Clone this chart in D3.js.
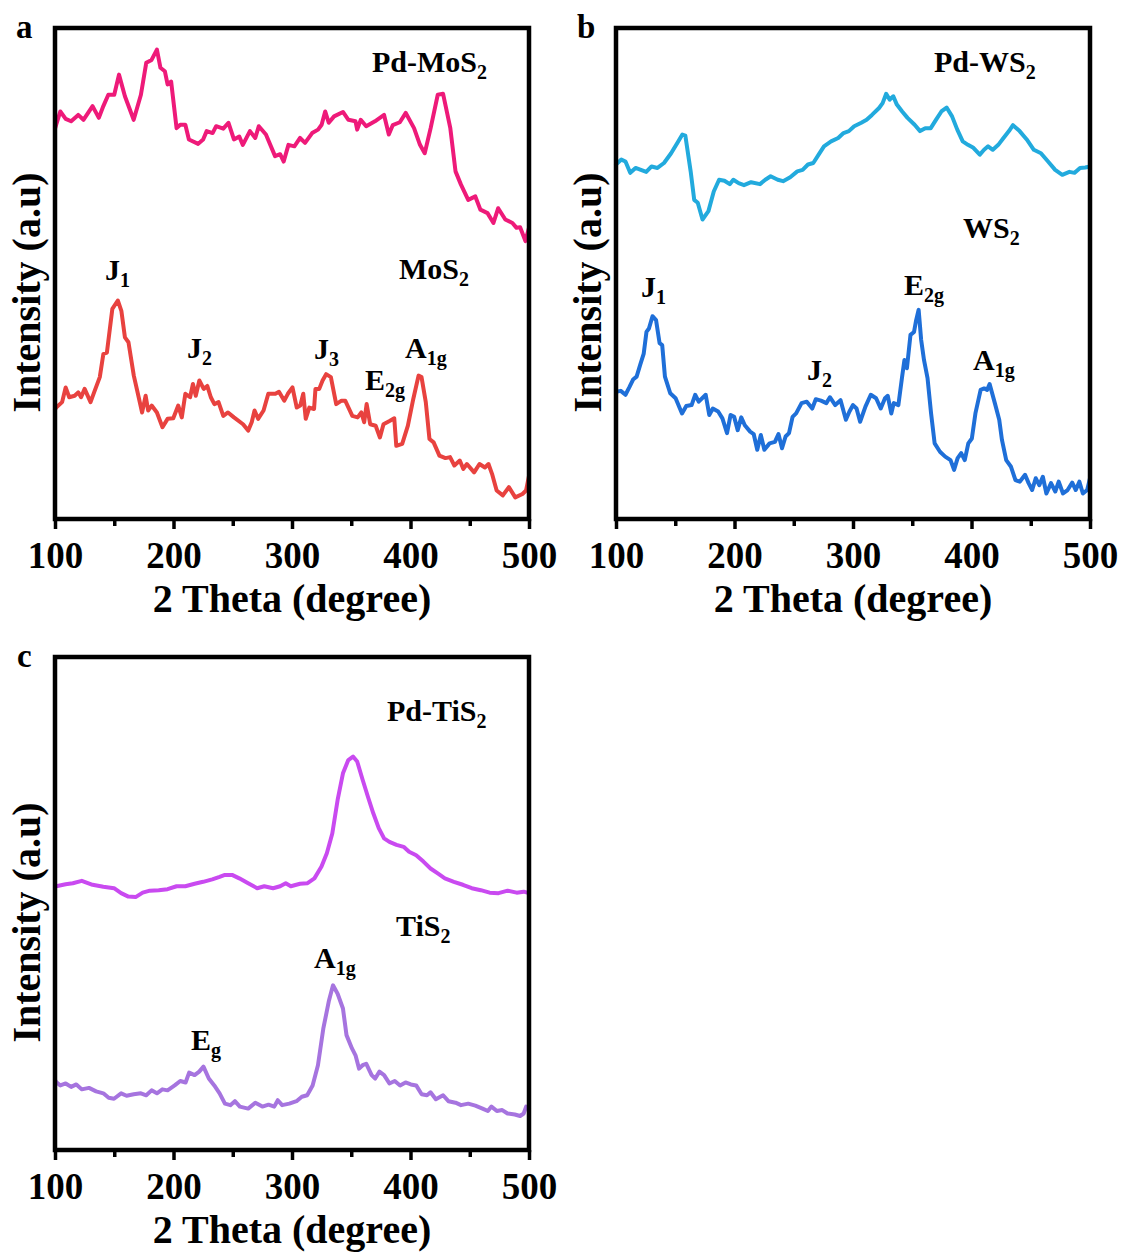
<!DOCTYPE html>
<html>
<head>
<meta charset="utf-8">
<script src="https://cdn.jsdelivr.net/npm/d3@7"></script>
<style>
  html, body { margin: 0; padding: 0; background: #fff; }
  svg text { font-family: "Liberation Serif", "Times New Roman", serif; font-weight: bold; fill: #000; }
</style>
</head>
<body>
<svg id="fig" width="1123" height="1252"></svg>
<script>
// Raman spectra: [2θ (degree), intensity (a.u.)]
const pdMoS2 = [[100,79.5],[101,80.3],[104.5,83.0],[109,81.5],[113.6,81.0],[119.6,82.3],[124,81.3],[131.7,84.1],[137,81.7],[140.8,84.1],[145,86.4],[150,86.4],[154,90.5],[159,86.1],[166.4,81.3],[172.5,86.4],[177,92.9],[181.5,93.5],[186,95.6],[189,91.9],[192.7,91.2],[195,88.5],[198,89.1],[202.6,79.6],[205.7,80.3],[210,80.3],[213,77.3],[220.8,76.4],[225,77.3],[228,79.0],[233,78.6],[236,80.0],[242,79.5],[246.4,80.7],[251,77.3],[255.5,77.9],[258.5,76.2],[264.5,79.0],[269,77.6],[272,80.0],[278,78.3],[285.7,73.9],[290,74.3],[293,72.8],[297,76.2],[302,75.9],[306.8,77.6],[311,76.6],[317,78.6],[322,79.3],[325,80.3],[328,83.0],[331,80.7],[335.5,82.0],[343,82.9],[347.6,81.3],[353.6,81.0],[355,79.3],[358,81.3],[362.6,80.0],[370,81.0],[377.7,82.3],[381.7,78.3],[385,80.2],[391,80.8],[396,82.7],[403,79.6],[408,76.2],[412,74.5],[417,79.6],[423,86.4],[427.5,86.6],[433.6,79.6],[438,70.8],[442.6,68.1],[448.7,65.0],[454.7,65.7],[459,63.0],[465,62.3],[470,60.3],[474,63.3],[480,61.0],[486,60.3],[489.5,59.3],[492.5,59.4],[497,56.6],[500,59.3]];

const mos2 = [[100,22.3],[101,22.7],[106,23.8],[109,26.8],[112,24.8],[116.6,25.1],[119.6,25.8],[122,24.8],[125,26.5],[130,23.8],[133,25.8],[137.8,28.9],[140.8,33.6],[143.8,33.9],[148.4,42.8],[153,44.5],[156,42.4],[159,37.0],[162,36.0],[166.5,29.2],[171,24.4],[173.5,21.7],[176.5,25.1],[178.6,22.1],[181.6,23.1],[186,21.7],[190.7,18.7],[195,20.4],[199.8,20.5],[204,23.1],[207,20.7],[210,25.5],[214,24.8],[216.4,27.5],[218.8,25.1],[221.8,28.2],[225.5,26.5],[228.5,27.1],[231.5,24.8],[234.5,23.4],[238,23.8],[242,21.0],[246,21.7],[251,20.7],[258.7,19.3],[263,18.0],[266,19.7],[268.4,22.1],[271.4,20.4],[276,22.1],[280,25.5],[286,25.5],[289,25.9],[293.5,24.1],[296.5,25.5],[300.4,26.8],[304,22.7],[307,23.1],[309.5,25.5],[311.6,20.4],[314.6,22.7],[318.6,22.4],[319.8,26.5],[323,26.5],[325.8,28.2],[328.8,29.5],[332.8,28.9],[337.3,23.4],[341.8,24.1],[344.9,24.1],[350.9,21.0],[355.4,20.7],[358.5,21.7],[360.9,19.7],[363,23.4],[366,19.3],[370.6,19.0],[374.2,16.6],[377.2,19.3],[382.7,20.0],[386.3,20.5],[388,14.9],[393,15.3],[397.8,19.0],[402.3,24.4],[406.8,29.2],[409.3,28.9],[412.9,23.8],[416,16.3],[419.5,15.6],[424.4,12.9],[429.5,12.4],[433.4,12.6],[437,10.9],[441.6,11.9],[444.6,10.2],[447.6,11.2],[453.7,9.5],[458.2,11.2],[462.8,10.5],[465.8,11.2],[468.8,9.2],[472.7,5.8],[477.9,4.8],[483,6.5],[488.4,4.4],[494.5,5.1],[497.5,5.8],[500,8.8]];

const pdWS2 = [[100,72.2],[104.5,73.2],[108,72.8],[112,70.5],[116.5,71.5],[121,71.1],[125.5,70.7],[130,71.8],[135,71.5],[140.5,72.5],[146.5,74.5],[152.5,76.9],[156,78.3],[158.5,78.1],[163,70.8],[166,65.0],[169,64.4],[173,61.0],[178,62.7],[182.5,66.7],[187,69.1],[191.5,68.9],[196,68.2],[199,69.1],[203.5,68.4],[208,68.0],[214,68.6],[221.5,68.2],[226,69.1],[230.5,69.8],[236.5,69.1],[241,68.8],[247,69.6],[253,70.8],[257.5,71.1],[262,72.2],[266.5,72.5],[271,74.2],[275.5,75.9],[281.5,76.9],[287.5,77.6],[292,78.6],[296.5,79.0],[301,80.0],[307,80.7],[311.5,81.3],[316,82.3],[322,83.7],[325,84.7],[328,86.6],[331,85.4],[334,86.1],[337,84.4],[341.5,83.0],[346,81.7],[352,80.3],[356.6,79.0],[361,79.6],[365.6,79.6],[370,81.3],[374.6,83.0],[379,83.8],[383.6,82.0],[388,79.3],[392.6,76.9],[397,76.2],[401.6,75.6],[407,74.2],[410.6,75.2],[414,75.9],[418,75.2],[422.6,76.2],[427,77.6],[431.6,79.0],[435,80.2],[440.6,79.0],[446.6,77.3],[452.6,75.2],[458.6,74.5],[464.6,72.8],[470.6,71.1],[476.6,70.1],[482.6,70.7],[487,70.5],[491.6,71.5],[496,71.6],[500,71.8]];

const ws2 = [[100,25.9],[104,26.1],[108,25.3],[111.4,26.9],[114.4,28.4],[117.4,29.0],[120.4,31.4],[123.4,33.7],[125.7,38.1],[127.8,38.8],[130.8,41.3],[133.8,40.5],[136.8,35.8],[139,35.4],[141.3,29.0],[145.8,25.6],[150.3,24.6],[155.7,21.5],[159.3,23.0],[163.8,23.2],[166.8,25.3],[169.8,23.9],[175.7,25.3],[178.7,21.2],[181.7,22.5],[186.2,21.9],[189.8,20.5],[193.7,17.5],[196.7,21.2],[199.7,20.8],[202.7,18.1],[205.7,20.7],[208.7,19.1],[213.2,17.8],[216.2,17.3],[219.2,14.1],[222.2,17.1],[225.2,14.1],[229.6,15.4],[234.1,15.7],[237.1,17.3],[240.1,14.4],[243.1,16.8],[246,17.5],[249,20.8],[252,21.5],[256.6,23.6],[261,23.9],[265.6,22.5],[268.6,24.4],[273,24.1],[277.5,23.6],[280.5,24.8],[285,23.2],[289.5,24.2],[294,20.2],[297,21.9],[300,23.2],[303,22.5],[306,19.8],[310.5,22.9],[315,25.3],[319.5,24.6],[323.4,22.5],[327,24.6],[329.3,25.1],[332.3,21.5],[334.4,23.6],[338.3,23.2],[341.3,28.7],[343.4,32.4],[345.5,30.7],[348.5,37.5],[351.5,38.1],[353.3,40.5],[355.4,42.6],[357.5,36.5],[359.9,32.4],[362.9,28.7],[365.9,21.5],[368.9,15.4],[373.4,13.7],[377.8,12.7],[382.3,12.0],[385.3,10.0],[388.3,12.4],[391.3,13.4],[394.3,12.0],[397.3,15.4],[400.3,16.4],[403.3,21.5],[407.7,26.3],[410.7,26.6],[413.2,26.3],[415.3,27.5],[419.7,23.6],[423.4,20.2],[425.7,16.1],[429.3,12.0],[433.2,10.7],[437.1,7.9],[440.7,7.6],[445.2,9.0],[448.2,7.3],[451.2,5.9],[454.2,8.3],[457.2,6.9],[460.2,8.6],[463.2,5.2],[467.1,7.3],[470.7,5.6],[473.6,7.6],[477.2,5.2],[481.1,5.9],[485,7.4],[488,5.9],[491,7.6],[494,5.2],[497.6,5.9],[500,8.3]];

const pdTiS2 = [[100,53.4],[101,53.5],[109,53.9],[115,54.1],[122.6,54.6],[131.7,53.8],[140.8,53.4],[149.8,53.1],[155.8,52.1],[161.9,51.4],[168,51.3],[174,52.2],[180,52.6],[187.5,52.7],[195,52.9],[202.6,53.5],[210,53.5],[217.8,54.0],[225,54.4],[232.7,54.9],[238.9,55.4],[243.4,55.8],[249.4,55.8],[255.5,55.1],[263,54.1],[270.6,53.1],[276.6,53.5],[284,53.1],[290,53.5],[294.7,54.1],[299,53.5],[306.8,54.0],[312.8,54.1],[318.9,55.1],[324.9,57.5],[329.4,60.2],[334,64.2],[338.5,71.0],[343,76.4],[347.5,79.1],[351.5,79.8],[355,78.8],[359.6,75.1],[364,71.7],[368.6,68.3],[373.2,65.3],[377.7,63.2],[382.2,62.5],[388.2,61.9],[394.2,61.5],[398.8,60.5],[404.8,59.8],[410.9,58.5],[416.9,57.1],[423,56.1],[429,55.1],[436.6,54.4],[444.2,53.8],[451.7,53.1],[459.3,52.7],[466.8,52.2],[474.3,52.1],[482,52.6],[489.6,52.2],[495.5,52.4],[500,52.1]];

const tiS2 = [[100,14.2],[101,13.8],[104.5,13.1],[109,13.5],[113.6,12.8],[118,13.3],[122.6,12.3],[128.7,12.6],[134.7,11.9],[140.8,11.5],[145.3,10.6],[149.8,10.4],[155.8,11.5],[160.4,11.0],[166.4,11.3],[172.5,11.5],[177,11.1],[181.5,12.1],[186,11.5],[190.6,12.3],[195,12.1],[201,13.1],[205.7,14.0],[210.2,13.7],[213.2,15.7],[217.8,15.2],[221.7,15.9],[225.3,16.9],[229.8,14.5],[234.4,13.1],[238.9,11.5],[243.4,9.4],[248,9.1],[251.8,9.9],[256,8.8],[263,8.4],[269,9.6],[275,8.8],[280.2,9.2],[285,8.8],[288,10.1],[291.7,9.1],[297.7,9.4],[303.8,9.9],[308.3,10.8],[312.8,11.1],[317.4,13.1],[321.9,17.2],[326.4,24.6],[331,30.1],[334.6,33.4],[338.5,31.7],[343,28.7],[346,23.3],[350.6,20.6],[353.6,19.2],[356.6,16.5],[359.6,17.2],[362.6,17.5],[367.2,15.2],[370.2,14.5],[373.8,15.9],[377.7,15.2],[382.2,13.5],[386.7,14.0],[391.2,13.1],[395.8,13.7],[400.3,13.3],[404.8,13.1],[409.4,11.3],[413.9,11.1],[416.9,11.7],[421.4,10.3],[427.5,11.1],[432,9.9],[438,9.6],[442.6,9.1],[448.7,9.4],[454.7,9.0],[460.8,8.4],[465.3,7.9],[468.3,8.8],[472.9,7.9],[477.4,8.1],[481.9,7.4],[488,7.2],[492.5,6.9],[495.5,7.4],[497.6,8.8],[500,8.4]];

// Axis ticks
const majorTicks = [100, 200, 300, 400, 500];
const minorTicks = [150, 250, 350, 450];
const xTitle = "2 Theta (degree)";
const yTitle = "Intensity (a.u)";

// Sample and peak annotations: [main text, subscript, x, y baseline]
const labelsA = [["Pd-MoS", "2", 372, 72], ["MoS", "2", 399, 279], ["J", "1", 105, 280], ["J", "2", 187, 358], ["J", "3", 314, 359], ["E", "2g", 365, 390], ["A", "1g", 405, 358]];
const labelsB = [["Pd-WS", "2", 934, 72], ["WS", "2", 963, 238], ["J", "1", 641, 297], ["E", "2g", 904, 295], ["J", "2", 807, 380], ["A", "1g", 973, 370]];
const labelsC = [["Pd-TiS", "2", 387, 721], ["TiS", "2", 396, 936], ["A", "1g", 314, 968], ["E", "g", 191, 1050]];

const svg = d3.select("#fig");

function panel(cfg) {
  const { left, right, top, bottom, series, labels, letter, letterX, titleX } = cfg;
  const x = d3.scaleLinear().domain([100, 500]).range([left, right]);
  const y = d3.scaleLinear().domain([0, 100]).range([bottom, top]);
  const g = svg.append("g");

  const line = d3.line().x(d => x(d[0])).y(d => y(d[1]));
  series.forEach(s => {
    g.append("path").datum(s.data)
      .attr("d", line)
      .attr("fill", "none")
      .attr("stroke", s.color)
      .attr("stroke-width", 4)
      .attr("stroke-linejoin", "round")
      .attr("stroke-linecap", "round");
  });

  // major and minor ticks along the bottom edge
  const axis = d3.axisBottom(x).tickValues(majorTicks).tickSize(10).tickPadding(13).tickFormat(d3.format("d"));
  const ax = g.append("g").attr("transform", `translate(0,${bottom})`).call(axis);
  ax.select(".domain").remove();
  ax.selectAll(".tick line").attr("stroke", "#000").attr("stroke-width", 3.5);
  ax.selectAll(".tick text").style("font-size", "37px").attr("fill", "#000");
  const minor = d3.axisBottom(x).tickValues(minorTicks).tickSize(7).tickFormat("");
  const mx = g.append("g").attr("transform", `translate(0,${bottom})`).call(minor);
  mx.select(".domain").remove();
  mx.selectAll(".tick line").attr("stroke", "#000").attr("stroke-width", 3.5);

  // frame
  g.append("rect")
    .attr("x", left).attr("y", top)
    .attr("width", right - left).attr("height", bottom - top)
    .attr("fill", "none").attr("stroke", "#000").attr("stroke-width", 4.5);

  g.append("text")
    .attr("x", (left + right) / 2).attr("y", bottom + 93)
    .attr("text-anchor", "middle").style("font-size", "40px")
    .text(xTitle);

  g.append("text")
    .attr("transform", `translate(${titleX},${(top + bottom) / 2 + 19}) rotate(-90)`)
    .attr("text-anchor", "middle").style("font-size", "40px")
    .text(yTitle);

  g.append("text")
    .attr("x", letterX).attr("y", top + 10)
    .style("font-size", "33px")
    .text(letter);

  labels.forEach(([main, sub, lx, ly]) => {
    const t = g.append("text").attr("x", lx).attr("y", ly).style("font-size", "30px");
    t.append("tspan").text(main);
    t.append("tspan").attr("dy", 7).style("font-size", "20px").text(sub);
  });
}

panel({
  left: 55, right: 529, top: 28, bottom: 519,
  series: [{ data: pdMoS2, color: "#ee1a79" }, { data: mos2, color: "#e8423f" }],
  labels: labelsA, letter: "a", letterX: 16, titleX: 40
});

panel({
  left: 616, right: 1090, top: 28, bottom: 519,
  series: [{ data: pdWS2, color: "#22aadd" }, { data: ws2, color: "#1f6fd8" }],
  labels: labelsB, letter: "b", letterX: 577, titleX: 601
});

panel({
  left: 55, right: 529, top: 657, bottom: 1150,
  series: [{ data: pdTiS2, color: "#c94af0" }, { data: tiS2, color: "#a674df" }],
  labels: labelsC, letter: "c", letterX: 17, titleX: 40
});
</script>
</body>
</html>
